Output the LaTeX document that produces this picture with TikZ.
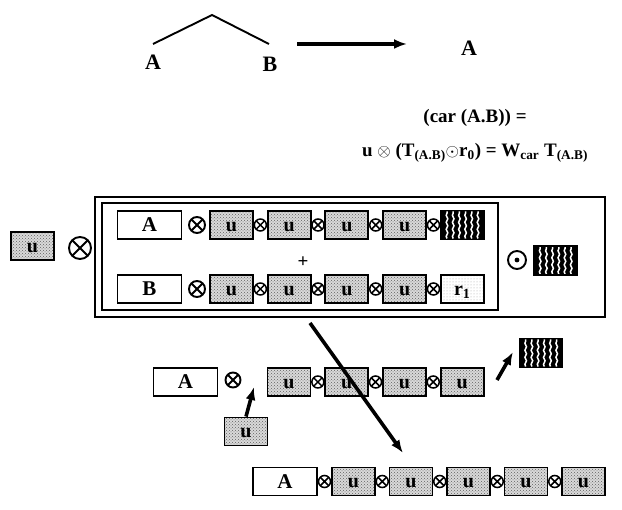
\documentclass[tikz,border=0pt]{standalone}
\usepackage{fontspec}
\setmainfont{Liberation Serif}
\usetikzlibrary{
  arrows.meta,
  calc,
  positioning,
  patterns,
  decorations.pathmorphing
}
\tikzset{
  >={Latex[length=13pt,width=10pt]},
  line cap=round,
  line join=round,
  every picture/.style={line width=1.9pt},
  lbl/.style={inner sep=0pt, font=\fontsize{22}{22}\bfseries},
  eq/.style={inner sep=0pt, font=\fontsize{19}{19}\bfseries},
  word/.style={draw, fill=white, minimum width=64pt, minimum height=28pt, inner sep=0pt, font=\fontsize{21}{21}\bfseries},
  ubox/.style={draw, minimum width=43pt, minimum height=28pt, inner sep=0pt, text height=13pt, text depth=0pt,
    preaction={fill=gray!30}, pattern=crosshatch dots, pattern color=gray!75!black,
    font=\fontsize{20}{20}\bfseries},
  rbox/.style={ubox, preaction={fill=white}, pattern=dots, pattern color=gray!70},
  darkbox/.style={draw, fill=black, minimum width=43pt, minimum height=29pt, inner sep=0pt,
    path picture={
      \foreach \k in {1,...,6}
        \draw[white, line width=1.5pt, decorate, decoration={snake, amplitude=0.8pt, segment length=7pt}]
          ($(path picture bounding box.south west)+(\k*6.2pt,1pt)$) -- ++(0,27pt);
    }},
  frame/.style={draw, inner sep=0pt},
  otimesnode/.style={circle, draw, inner sep=0pt, minimum size=#1,
    path picture={
      \draw (path picture bounding box.north west) -- (path picture bounding box.south east)
            (path picture bounding box.south west) -- (path picture bounding box.north east);
    }},
  odotnode/.style={circle, draw, inner sep=0pt, minimum size=#1,
    path picture={\fill (path picture bounding box.center) circle (2.4pt);}},
  link/.style={otimesnode=12pt, line width=1.5pt},
  thickarrow/.style={->, line width=3.6pt}
}

\begin{document}
\begin{tikzpicture}[x=1pt, y=-1pt]
  \useasboundingbox (0,0) rectangle (622,510);

  % tree and its result
  \coordinate (apex) at (212,15);
  \coordinate (la) at (153,44);
  \coordinate (lb) at (269,44);
  \node[lbl] (ta) at (153,62) {A};
  \node[lbl] (tb) at (270,64) {B};
  \draw (la) -- (apex) -- (lb);
  \node[lbl] (res) at (469,48) {A};
  \coordinate (ar0) at (297,44);
  \coordinate (ar1) at (407,44);
  \draw[thickarrow] (ar0) -- (ar1);

  % equation
  \node[eq] (eq1) at (475,118) {(car (A.B)) =};
  \node[eq] (eq2) at (475,153) {u $\otimes$ (T\textsubscript{(A.B)}$\odot$r\textsubscript{0}) = W\textsubscript{car} T\textsubscript{(A.B)}};

  % frames
  \node[frame, minimum width=510pt, minimum height=120pt] (outer) at (350,257) {};
  \node[frame, minimum width=396pt, minimum height=107pt] (inner) at (300,256.5) {};

  % left factor
  \node[ubox] (lu) at (32.5,246) {u};
  \node[otimesnode=22pt] (lx) at (80,248) {};

  % first row: A
  \node[word] (wa) at (149.5,225) {A};
  \node[otimesnode=16pt] (xa) at (197,225) {};
  \foreach \i in {1,...,4}
    \node[ubox] (a\i) at ({173.8+57.7*\i},225) {u};
  \node[darkbox] (a5) at (462.3,225) {};
  \foreach \i/\j in {1/2,2/3,3/4,4/5}
    \node[link] at ($(a\i.east)!0.5!(a\j.west)$) {};

  \node[font=\fontsize{19}{19}\bfseries] (plus) at (303,262) {+};

  % second row: B
  \node[word] (wb) at (149.5,289) {B};
  \node[otimesnode=16pt] (xb) at (197,289) {};
  \foreach \i in {1,...,4}
    \node[ubox] (b\i) at ({173.8+57.7*\i},289) {u};
  \node[rbox] (b5) at (462.3,289) {r\textsubscript{1}};
  \foreach \i/\j in {1/2,2/3,3/4,4/5}
    \node[link] at ($(b\i.east)!0.5!(b\j.west)$) {};

  % unbinding
  \node[odotnode=18pt] (dot) at (517,260) {};
  \node[darkbox] (rr) at (555.5,260.5) {};

  % third row
  \node[word] (wc) at (185.5,382) {A};
  \node[otimesnode=15pt] (xc) at (233,380) {};
  \foreach \i in {1,...,4}
    \node[ubox] (c\i) at ({231.3+57.7*\i},382) {u};
  \foreach \i/\j in {1/2,2/3,3/4}
    \node[link] at ($(c\i.east)!0.5!(c\j.west)$) {};
  \node[ubox] (cu) at (246,431.5) {u};
  \coordinate (cin) at (254,387);
  \draw[thickarrow] (cu.north) -- (cin);
  \node[darkbox] (cr) at (541,353) {};
  \coordinate (cout) at (497,380);
  \coordinate (cend) at (513,352);
  \draw[thickarrow] (cout) -- (cend);

  % long arrow
  \coordinate (d0) at (310,323);
  \coordinate (d1) at (403,453);
  \draw[thickarrow] (d0) -- (d1);

  % fourth row
  \node[word] (wd) at (285,481.5) {A};
  \foreach \i in {1,...,5}
    \node[ubox] (d\i) at ({296+57.5*\i},481.5) {u};
  \node[link] at ($(wd.east)!0.5!(d1.west)$) {};
  \foreach \i/\j in {1/2,2/3,3/4,4/5}
    \node[link] at ($(d\i.east)!0.5!(d\j.west)$) {};
\end{tikzpicture}
\end{document}
